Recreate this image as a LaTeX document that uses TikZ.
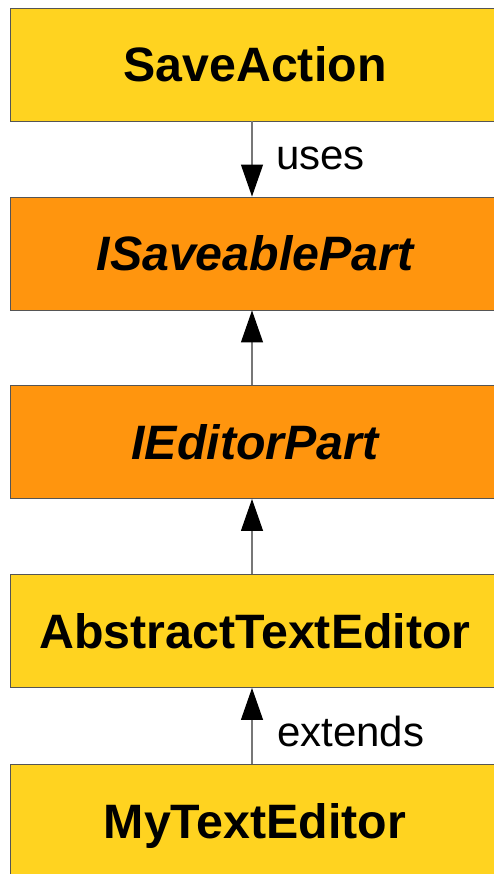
\documentclass[tikz,border=0pt]{standalone}
\usepackage{fontspec}
\setmainfont{Liberation Sans}
\usetikzlibrary{arrows.meta}
\definecolor{boxyellow}{HTML}{FFD320}
\definecolor{boxorange}{HTML}{FF950E}
\definecolor{edgegray}{HTML}{555555}
\definecolor{linkgray}{HTML}{777777}
\tikzset{
  classbox/.style={draw=edgegray, line width=0.9pt, rectangle, minimum width=490pt,
    minimum height=113pt, inner sep=0pt, text height=35pt, text depth=0pt,
    font=\fontsize{48.3}{56}\selectfont\bfseries},
  concrete/.style={classbox, fill=boxyellow},
  iface/.style={classbox, fill=boxorange, font=\fontsize{48.3}{56}\selectfont\bfseries\itshape},
  link/.style={draw=linkgray, line width=1.2pt, -{Triangle[width=22pt,length=32pt,fill=black,color=black]}},
  linklabel/.style={font=\fontsize{42}{48}\selectfont, anchor=base west, inner sep=0pt}
}
\begin{document}
\begin{tikzpicture}[x=1pt,y=-1pt]
  \useasboundingbox (0,0) rectangle (494,874);
  \clip (0,0) rectangle (494,874);
  \node[concrete] (save) at (255,64.5) {SaveAction};
  \node[iface] (saveable) at (255,253.5) {ISaveablePart};
  \node[iface] (editorpart) at (255,442) {IEditorPart};
  \node[concrete] (abstract) at (255,631) {AbstractTextEditor};
  \node[concrete] (mine) at (255,820.5) {MyTextEditor};

  \draw[link] (save.south -| 252,0) -- (saveable.north -| 252,0);
  \draw[link] (editorpart.north -| 252,0) -- (saveable.south -| 252,0);
  \draw[link] (abstract.north -| 252,0) -- (editorpart.south -| 252,0);
  \draw[link] (mine.north -| 252,0) -- (abstract.south -| 252,0);

  \node[linklabel] (uses) at (276,170) {uses};
  \node[linklabel] (extends) at (277,746) {extends};
\end{tikzpicture}
\end{document}
